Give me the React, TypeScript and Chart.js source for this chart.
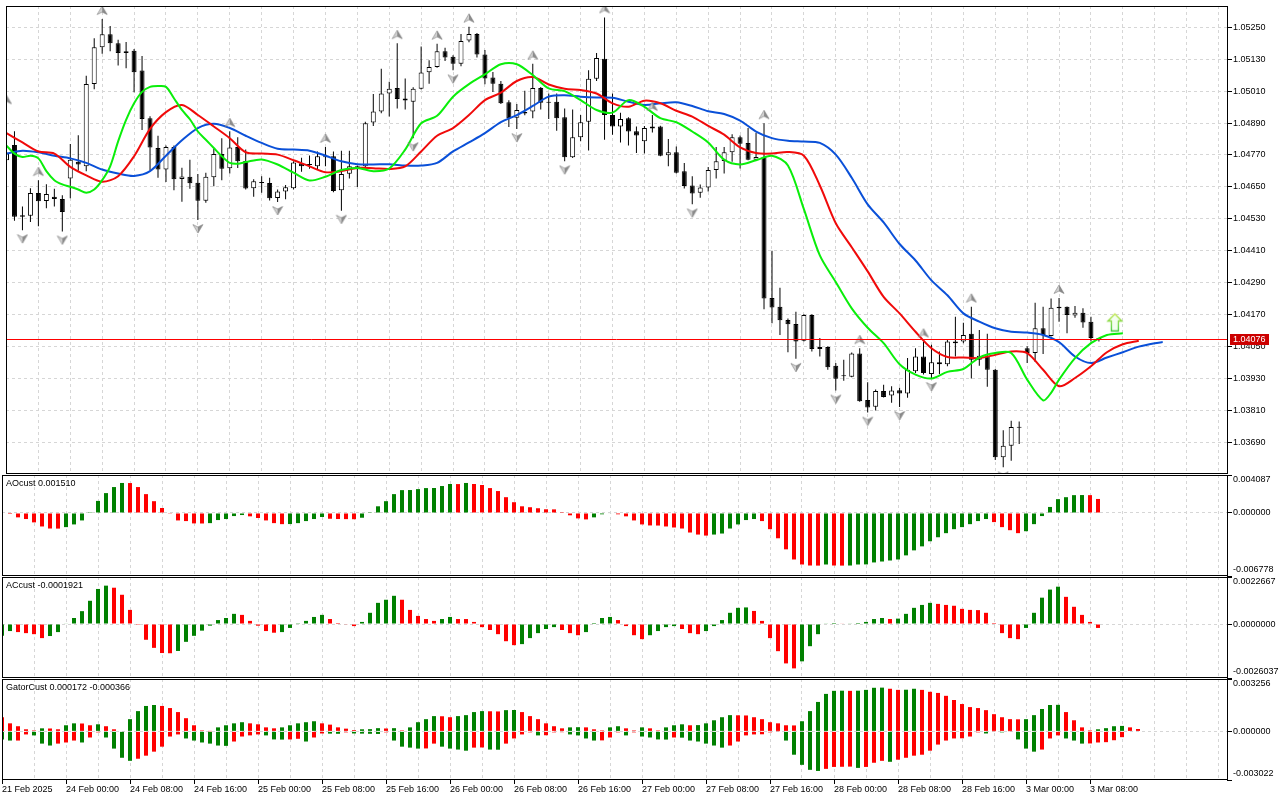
import React, { useEffect, useRef } from "react";
import { Chart, registerables } from "chart.js";

Chart.register(...registerables);

const FONT = "'Liberation Sans', Arial, Helvetica, sans-serif";
const UP_GREEN = "#008000";
const DOWN_RED = "#ff0000";

// ---------- time axis ----------
const timeLabels = [
  "21 Feb 2025", "24 Feb 00:00", "24 Feb 08:00", "24 Feb 16:00", "25 Feb 00:00", "25 Feb 08:00",
  "25 Feb 16:00", "26 Feb 00:00", "26 Feb 08:00", "26 Feb 16:00", "27 Feb 00:00", "27 Feb 08:00",
  "27 Feb 16:00", "28 Feb 00:00", "28 Feb 08:00", "28 Feb 16:00", "3 Mar 00:00", "3 Mar 08:00",
];
const timeLabelBars = [0, 8, 16, 24, 32, 40, 48, 56, 64, 72, 80, 88, 96, 104, 112, 120, 128, 136];

// ---------- price axis ----------
const priceTicks = [1.0369, 1.0381, 1.0393, 1.0405, 1.0417, 1.0429, 1.0441, 1.0453, 1.0465, 1.0477, 1.0489, 1.0501, 1.0513, 1.0525];
const priceMin = 1.0357;
const priceMax = 1.0533;
const lastPrice = 1.04076;

// ---------- candles (H1) ----------
const openP = [
  1.0475, 1.04807, 1.04543, 1.04541, 1.04627, 1.04597, 1.04613, 1.04604, 1.04681, 1.04744,
  1.04727, 1.05037, 1.05175, 1.05224, 1.0519, 1.05153, 1.05162, 1.05087, 1.04908, 1.04796,
  1.04715, 1.048, 1.04679, 1.04688, 1.04665, 1.04598, 1.04686, 1.04773, 1.0472, 1.048,
  1.04747, 1.04645, 1.04668, 1.04664, 1.04608, 1.04632, 1.04645, 1.04739, 1.04732, 1.04727,
  1.04761, 1.04765, 1.04637, 1.04699, 1.04727, 1.04727, 1.04892, 1.04933, 1.05001, 1.05022,
  1.04982, 1.0497, 1.05019, 1.05081, 1.05101, 1.0516, 1.05139, 1.05113, 1.052, 1.05225,
  1.05148, 1.05061, 1.05038, 1.04968, 1.0491, 1.04931, 1.04933, 1.05022, 1.0497, 1.0497,
  1.04912, 1.04761, 1.04836, 1.04895, 1.05056, 1.05132, 1.0492, 1.04877, 1.04908, 1.04859,
  1.04821, 1.04869, 1.04877, 1.04769, 1.0478, 1.04709, 1.04655, 1.04628, 1.04647, 1.04713,
  1.04747, 1.0478, 1.04836, 1.04815, 1.04752, 1.04762, 1.04232, 1.04199, 1.04149, 1.04134,
  1.04071, 1.04168, 1.0404, 1.04048, 1.03977, 1.03938, 1.03936, 1.04023, 1.03848, 1.03823,
  1.03882, 1.03865, 1.03885, 1.03873, 1.03956, 1.04012, 1.03946, 1.0399, 1.03983, 1.04068,
  1.04068, 1.04097, 1.04, 1.04012, 1.03962, 1.03633, 1.03676, 1.03747, 1.04043, 1.04025,
  1.04118, 1.04089, 1.04199, 1.04199, 1.04166, 1.04176, 1.04143, 1.04081,
];
const highP = [
  1.04945, 1.04859, 1.04576, 1.04645, 1.04675, 1.0466, 1.04643, 1.04618, 1.04811, 1.04844,
  1.05068, 1.05209, 1.05281, 1.05255, 1.05203, 1.05195, 1.05168, 1.05142, 1.04915, 1.04842,
  1.04805, 1.04805, 1.04722, 1.04752, 1.04698, 1.04703, 1.04793, 1.04833, 1.04859, 1.04836,
  1.0479, 1.04678, 1.0469, 1.04684, 1.0464, 1.04657, 1.04746, 1.04759, 1.04768, 1.04783,
  1.048, 1.04783, 1.04786, 1.04786, 1.0473, 1.04895, 1.04999, 1.05094, 1.05045, 1.0519,
  1.05057, 1.05024, 1.05178, 1.05126, 1.05188, 1.05173, 1.05145, 1.05225, 1.05252, 1.05228,
  1.05165, 1.05082, 1.05048, 1.04976, 1.04961, 1.05011, 1.05113, 1.05025, 1.05001, 1.05001,
  1.04945, 1.04941, 1.0492, 1.05088, 1.05153, 1.05287, 1.05001, 1.04929, 1.04912, 1.04877,
  1.04879, 1.0492, 1.0488, 1.0483, 1.04802, 1.0474, 1.0469, 1.04659, 1.04725, 1.048,
  1.048, 1.04848, 1.04843, 1.04871, 1.04852, 1.04889, 1.0441, 1.0427, 1.04155, 1.0418,
  1.04171, 1.04171, 1.04081, 1.0405, 1.03987, 1.04, 1.04027, 1.04043, 1.03915, 1.03888,
  1.03906, 1.039, 1.03894, 1.04006, 1.04043, 1.04068, 1.04056, 1.04031, 1.04074, 1.04161,
  1.04139, 1.04199, 1.04112, 1.04097, 1.03965, 1.03735, 1.0377, 1.03767, 1.0405, 1.04214,
  1.04199, 1.0423, 1.04232, 1.042, 1.04202, 1.04193, 1.04161, 1.04081,
];
const lowP = [
  1.0474, 1.04522, 1.04487, 1.04518, 1.04502, 1.04569, 1.04576, 1.04482, 1.04607, 1.0471,
  1.04709, 1.05017, 1.0515, 1.0516, 1.05106, 1.05096, 1.05006, 1.04864, 1.04711, 1.04684,
  1.04668, 1.04637, 1.04594, 1.04643, 1.04525, 1.0459, 1.04652, 1.04675, 1.047, 1.04721,
  1.0464, 1.04613, 1.04628, 1.04599, 1.04593, 1.04603, 1.0464, 1.04707, 1.04718, 1.04717,
  1.04727, 1.0463, 1.0456, 1.04681, 1.04649, 1.04721, 1.04879, 1.04927, 1.04914, 1.04945,
  1.04941, 1.04833, 1.05016, 1.05038, 1.05098, 1.05123, 1.05088, 1.05103, 1.05194, 1.05136,
  1.05036, 1.05007, 1.04961, 1.04875, 1.04867, 1.04919, 1.04908, 1.04941, 1.04905, 1.04861,
  1.04746, 1.04758, 1.04821, 1.04787, 1.05048, 1.04827, 1.04846, 1.04817, 1.04805, 1.04777,
  1.04775, 1.04854, 1.04765, 1.04727, 1.047, 1.04644, 1.04584, 1.04609, 1.04632, 1.04681,
  1.047, 1.04744, 1.04719, 1.0475, 1.0475, 1.0419, 1.04137, 1.04093, 1.04028, 1.04003,
  1.04068, 1.04031, 1.04012, 1.03962, 1.03884, 1.03921, 1.03934, 1.03842, 1.03801, 1.03809,
  1.03858, 1.03838, 1.03822, 1.03857, 1.0395, 1.03944, 1.03931, 1.03946, 1.03975, 1.04012,
  1.04062, 1.03929, 1.03977, 1.03898, 1.03623, 1.03595, 1.0362, 1.03683, 1.03987, 1.03991,
  1.04021, 1.04087, 1.04143, 1.04099, 1.04158, 1.0412, 1.04068, 1.04068,
];
const closeP = [
  1.04775, 1.04537, 1.04537, 1.04627, 1.04596, 1.04623, 1.04604, 1.04555, 1.04752, 1.04734,
  1.05037, 1.05175, 1.05224, 1.0519, 1.05153, 1.0516, 1.05081, 1.04905, 1.04798, 1.04715,
  1.048, 1.04678, 1.04689, 1.04663, 1.04598, 1.04688, 1.04773, 1.04718, 1.04798, 1.04746,
  1.04644, 1.04671, 1.04664, 1.04607, 1.04632, 1.04648, 1.04741, 1.04727, 1.04735, 1.04765,
  1.04765, 1.04634, 1.04698, 1.04727, 1.0472, 1.04889, 1.04933, 1.05001, 1.05019, 1.0498,
  1.04975, 1.05019, 1.0508, 1.05101, 1.0516, 1.05136, 1.05113, 1.05198, 1.05225, 1.05148,
  1.05057, 1.05038, 1.04964, 1.04908, 1.04939, 1.04926, 1.05022, 1.04966, 1.04966, 1.04908,
  1.04761, 1.04836, 1.04893, 1.05056, 1.05134, 1.0492, 1.04877, 1.04905, 1.04858, 1.04843,
  1.04871, 1.04877, 1.04767, 1.0478, 1.04703, 1.04653, 1.04625, 1.04647, 1.04713, 1.04746,
  1.0478, 1.04836, 1.04812, 1.04752, 1.04762, 1.0423, 1.04196, 1.04148, 1.04133, 1.04068,
  1.04168, 1.0404, 1.04048, 1.03971, 1.03928, 1.03939, 1.04023, 1.03844, 1.0382, 1.03882,
  1.0386, 1.03884, 1.03873, 1.03962, 1.04012, 1.0395, 1.0399, 1.03983, 1.04068, 1.04062,
  1.04093, 1.04, 1.04015, 1.03962, 1.03633, 1.03676, 1.03747, 1.03744, 1.04025, 1.04118,
  1.04093, 1.04195, 1.04193, 1.04168, 1.04176, 1.0414, 1.04081, 1.04076,
];

// ---------- fractals & signal ----------
const upFractals = [0, 4, 12, 28, 40, 49, 54, 58, 66, 75, 81, 95, 107, 115, 121, 132];
const downFractals = [2, 7, 24, 34, 42, 51, 56, 64, 70, 86, 99, 104, 108, 112, 116, 125];
const signalUp: [number, number][] = [[139, 1.04106]];

// ---------- alligator (bar, price) ----------
const jawLine: [number, number][] = [
  [0, 1.04775], [2, 1.04786], [4, 1.0478], [6, 1.04767], [8, 1.04757], [10, 1.0474], [12, 1.04715], [14, 1.047],
  [16, 1.04691], [18, 1.04709], [20, 1.04767], [22, 1.04825], [24, 1.04871], [26, 1.04887], [28, 1.04871], [30, 1.04842],
  [32, 1.04815], [34, 1.04793], [36, 1.0479], [38, 1.04786], [40, 1.04767], [42, 1.04746], [44, 1.04735], [46, 1.04734],
  [48, 1.04735], [50, 1.0473], [52, 1.0473], [54, 1.0474], [56, 1.04783], [58, 1.04817], [60, 1.04852], [62, 1.04893],
  [64, 1.0492], [66, 1.04954], [68, 1.04989], [70, 1.04994], [72, 1.04989], [74, 1.04986], [76, 1.04985], [78, 1.0497],
  [80, 1.04958], [82, 1.04964], [84, 1.04968], [86, 1.04954], [88, 1.04934], [90, 1.04924], [92, 1.04899], [94, 1.04858],
  [96, 1.04833], [98, 1.04823], [100, 1.0482], [102, 1.04815], [104, 1.04771], [106, 1.04684], [108, 1.04584], [110, 1.04516],
  [112, 1.04435], [114, 1.04373], [116, 1.04298], [118, 1.04242], [120, 1.04174], [122, 1.04143], [124, 1.04118], [126, 1.04105],
  [128, 1.04102], [130, 1.04093], [132, 1.04066], [134, 1.04012], [136, 1.03987], [138, 1.04008], [140, 1.04028], [142, 1.04049],
  [144, 1.04062], [145, 1.04066],
];
const teethLine: [number, number][] = [
  [0, 1.04852], [2, 1.04817], [4, 1.04783], [6, 1.04775], [8, 1.04725], [10, 1.04693], [12, 1.04669], [14, 1.0469],
  [16, 1.04765], [18, 1.04868], [20, 1.04931], [22, 1.04958], [24, 1.0492], [26, 1.04877], [28, 1.04833], [30, 1.0478],
  [32, 1.04775], [34, 1.04771], [36, 1.0475], [38, 1.04727], [40, 1.04705], [42, 1.04709], [44, 1.04721], [46, 1.0472],
  [48, 1.04717], [50, 1.04727], [52, 1.04783], [54, 1.04842], [56, 1.04871], [58, 1.0492], [60, 1.04976], [62, 1.05004],
  [64, 1.05048], [66, 1.05063], [68, 1.05035], [70, 1.05019], [72, 1.05014], [74, 1.05001], [76, 1.04964], [78, 1.04951],
  [80, 1.04974], [82, 1.04964], [84, 1.04936], [86, 1.04914], [88, 1.04879], [90, 1.04846], [92, 1.04798], [94, 1.04777],
  [96, 1.04775], [98, 1.04781], [100, 1.04767], [102, 1.04655], [104, 1.04513], [106, 1.04423], [108, 1.04332], [110, 1.04236],
  [112, 1.04174], [114, 1.04105], [116, 1.04043], [118, 1.0401], [120, 1.04008], [122, 1.04006], [124, 1.04018], [126, 1.04031],
  [128, 1.04025], [130, 1.03962], [132, 1.039], [134, 1.03931], [136, 1.03975], [138, 1.04028], [140, 1.04058], [142, 1.04071],
];
const lipsLine: [number, number][] = [
  [0, 1.04805], [1, 1.04775], [2, 1.04762], [3, 1.04767], [4, 1.04757], [5, 1.04709], [6, 1.04675], [7, 1.04659],
  [8, 1.0465], [9, 1.0464], [10, 1.04628], [11, 1.0464], [12, 1.04675], [13, 1.04727], [14, 1.04821], [15, 1.04902],
  [16, 1.04964], [17, 1.05007], [18, 1.05026], [19, 1.05029], [20, 1.05026], [21, 1.04983], [22, 1.04939], [23, 1.04904],
  [24, 1.04858], [25, 1.04827], [26, 1.04796], [27, 1.04765], [28, 1.0474], [29, 1.04737], [30, 1.04743], [32, 1.04753],
  [34, 1.04734], [36, 1.04703], [38, 1.04674], [40, 1.04688], [42, 1.04713], [44, 1.04721], [46, 1.04709], [48, 1.04719],
  [50, 1.0479], [52, 1.04889], [54, 1.04917], [56, 1.04989], [58, 1.05036], [60, 1.05073], [62, 1.05111], [64, 1.05111],
  [66, 1.0507], [68, 1.0502], [70, 1.0501], [72, 1.04976], [74, 1.04939], [76, 1.04929], [78, 1.04976], [80, 1.04951],
  [82, 1.04908], [84, 1.04893], [86, 1.04858], [88, 1.04817], [90, 1.04752], [92, 1.04734], [94, 1.0475], [96, 1.04767],
  [98, 1.0473], [100, 1.04566], [102, 1.04392], [104, 1.04292], [106, 1.04193], [108, 1.0412], [110, 1.04062], [112, 1.03983],
  [114, 1.03944], [116, 1.03929], [118, 1.03954], [120, 1.03965], [122, 1.04008], [124, 1.04025], [126, 1.04025], [128, 1.03925],
  [130, 1.03847], [131, 1.03875], [132, 1.03925], [134, 1.04006], [136, 1.04062], [138, 1.04093], [140, 1.04099],
];

// ---------- AO ----------
const aoRange = { min: -0.006778, max: 0.004087 };
const aoValues = [
  -0.00005, -0.00011, -0.00047, -0.00065, -0.00101, -0.00145, -0.00167, -0.00168, -0.00152, -0.00123,
  -0.0008, 0.00002, 0.0013, 0.00214, 0.00279, 0.00323, 0.00322, 0.00279, 0.00203, 0.00127,
  0.00054, -0.00008, -0.0008, -0.00087, -0.00112, -0.00113, -0.00109, -0.00076, -0.00065, -0.00033,
  -0.00022, -0.00036, -0.00054, -0.0008, -0.00109, -0.0012, -0.00119, -0.00109, -0.00087, -0.00065,
  -0.00043, -0.00062, -0.00065, -0.00066, -0.00067, -0.00051, 0.00002, 0.00072, 0.00127, 0.00203,
  0.00246, 0.00247, 0.00257, 0.00268, 0.00269, 0.0029, 0.00312, 0.00311, 0.00323, 0.00312,
  0.00301, 0.00268, 0.00236, 0.0017, 0.00116, 0.00072, 0.00062, 0.00051, 0.0004, 0.00039,
  0.00001, -0.00025, -0.00058, -0.00069, -0.00047, -0.00014, -0.00005, -0.00014, -0.00036, -0.0008,
  -0.00123, -0.00134, -0.00135, -0.00145, -0.00156, -0.00167, -0.0021, -0.00232, -0.00243, -0.00232,
  -0.00221, -0.00167, -0.00123, -0.00076, -0.00065, -0.00087, -0.00174, -0.00272, -0.00391, -0.005,
  -0.00554, -0.00565, -0.00566, -0.00554, -0.00565, -0.00566, -0.00565, -0.00554, -0.00553, -0.00532,
  -0.00522, -0.00511, -0.005, -0.00456, -0.00402, -0.00359, -0.00304, -0.00261, -0.00217, -0.00174,
  -0.00152, -0.0012, -0.00087, -0.00065, -0.00098, -0.00152, -0.00185, -0.00217, -0.00196, -0.0012,
  -0.00033, 0.00065, 0.00149, 0.0017, 0.00192, 0.00193, 0.00192, 0.00151,
];
const aoColorRuns: [string, number][] = [
  ["R", 8], ["G", 8], ["R", 10], ["G", 5], ["R", 5], ["G", 5], ["R", 4], ["G", 12], ["R", 1], ["G", 1],
  ["R", 15], ["G", 3], ["R", 12], ["G", 6], ["R", 8], ["G", 1], ["R", 2], ["G", 18], ["R", 4], ["G", 8], ["R", 2],
];

// ---------- AC ----------
const acRange = { min: -0.0026037, max: 0.0022667 };
const acValues = [
  -0.00057, -0.00034, -0.00039, -0.00044, -0.00049, -0.00068, -0.00058, -0.00039, 0.00002, 0.00029,
  0.00062, 0.00112, 0.00169, 0.00185, 0.00175, 0.00141, 0.00068, -0.00004, -0.00076, -0.00115,
  -0.0014, -0.00141, -0.0013, -0.00086, -0.00057, -0.00032, -0.00008, 0.00019, 0.00029, 0.00049,
  0.00044, 0.00015, -0.00008, -0.00034, -0.00042, -0.00039, -0.00019, 0.00001, 0.00015, 0.00034,
  0.00044, 0.00024, 0.00005, -0.00003, -0.0001, 0.0001, 0.00054, 0.00102, 0.00117, 0.00136,
  0.00117, 0.00068, 0.00039, 0.00024, 0.00015, 0.00024, 0.00034, 0.00024, 0.00024, 0.0001,
  -0.00015, -0.00029, -0.00049, -0.00083, -0.00102, -0.00097, -0.00068, -0.00044, -0.00024, -0.00015,
  -0.00029, -0.00044, -0.00054, -0.00039, 0.00005, 0.00029, 0.00034, 0.00019, -0.0001, -0.00054,
  -0.00073, -0.00054, -0.00034, -0.00015, -0.0001, -0.00024, -0.00044, -0.00049, -0.00034, -0.0001,
  0.00019, 0.00054, 0.00078, 0.0008, 0.00063, 0.00015, -0.00068, -0.00131, -0.0019, -0.00214,
  -0.0018, -0.00107, -0.00049, 0.00003, 0.00005, 0.00002, 0.00003, 0.00005, 0.0001, 0.00024,
  0.00029, 0.00024, 0.00026, 0.00049, 0.00078, 0.00092, 0.00102, 0.00097, 0.00092, 0.00088,
  0.00073, 0.00068, 0.00067, 0.00054, 0.00005, -0.00044, -0.00068, -0.00073, -0.00019, 0.00054,
  0.00127, 0.00166, 0.0018, 0.00131, 0.00083, 0.00044, 0.0001, -0.00019,
];
const acColorRuns: [string, number][] = [
  ["G", 2], ["R", 4], ["G", 8], ["R", 8], ["G", 8], ["R", 5], ["G", 6], ["R", 4], ["G", 5], ["R", 5],
  ["G", 2], ["R", 8], ["G", 5], ["R", 3], ["G", 4], ["R", 4], ["G", 4], ["R", 3], ["G", 6], ["R", 6],
  ["G", 5], ["R", 1], ["G", 5], ["R", 1], ["G", 5], ["R", 11], ["G", 5], ["R", 5],
];

// ---------- Gator ----------
const gatorRange = { min: -0.003022, max: 0.003256 };
const gatorUp = [
  0.00088, 0.0005, 0.00032, 0.00013, 0.00006, 0.00019, 0.00018, 0.00013, 0.00038, 0.0005,
  0.00049, 0.00038, 0.00044, 0.00032, 0.00013, 0.00003, 0.00076, 0.00126, 0.00158, 0.00164,
  0.00158, 0.00145, 0.0012, 0.00082, 0.00038, 0.00006, 0.00001, 0.00025, 0.00038, 0.0005,
  0.00057, 0.0005, 0.00044, 0.00025, 0.00019, 0.00025, 0.00038, 0.0005, 0.00057, 0.00063,
  0.0005, 0.00042, 0.00025, 0.00017, 0.00008, 0.00013, 0.00014, 0.0002, 0.00018, 0.0002,
  0.00006, 0.00025, 0.00057, 0.00076, 0.00095, 0.00094, 0.00088, 0.00095, 0.00101, 0.0012,
  0.00126, 0.00125, 0.00124, 0.00132, 0.00133, 0.0012, 0.00095, 0.00076, 0.0005, 0.00032,
  0.00019, 0.00025, 0.00026, 0.00025, 0.00013, 0.00006, 0.00025, 0.00032, 0.00019, 0.00006,
  0.00025, 0.00019, 0.00006, 0.00025, 0.00038, 0.00044, 0.00038, 0.00039, 0.0005, 0.00069,
  0.00088, 0.00101, 0.001, 0.00099, 0.00088, 0.00076, 0.00057, 0.0005, 0.00038, 0.00037,
  0.00063, 0.00126, 0.00183, 0.00233, 0.00252, 0.00253, 0.00252, 0.00253, 0.00258, 0.00271,
  0.00272, 0.00265, 0.00258, 0.00259, 0.00265, 0.00258, 0.00246, 0.00239, 0.00221, 0.00195,
  0.0017, 0.00151, 0.00145, 0.00132, 0.00107, 0.00088, 0.00076, 0.00075, 0.00076, 0.00101,
  0.00139, 0.00164, 0.00165, 0.0012, 0.00069, 0.00025, 0.00006, 0.00013, 0.0002, 0.00032,
  0.00034, 0.00025, 0.00015,
];
const gatorUpColorRuns: [string, number][] = [
  ["R", 5], ["G", 1], ["R", 2], ["G", 2], ["R", 2], ["G", 1], ["R", 3], ["G", 4], ["R", 7], ["G", 4],
  ["R", 4], ["G", 5], ["R", 5], ["G", 3], ["R", 1], ["G", 1], ["R", 1], ["G", 4], ["R", 2], ["G", 4],
  ["R", 2], ["G", 2], ["R", 6], ["G", 2], ["R", 3], ["G", 2], ["R", 2], ["G", 1], ["R", 2], ["G", 3],
  ["R", 1], ["G", 5], ["R", 8], ["G", 6], ["R", 1], ["G", 4], ["R", 2], ["G", 2], ["R", 13], ["G", 5],
  ["R", 4], ["G", 4], ["R", 2],
];
const gatorDown = [
  -0.0005, -0.00057, -0.00057, -0.00019, -0.00025, -0.00076, -0.00088, -0.00076, -0.00069, -0.00057,
  -0.00069, -0.00038, -0.00006, -0.00038, -0.00107, -0.00164, -0.00183, -0.0017, -0.00151, -0.00126,
  -0.00095, -0.00032, -0.00019, -0.00044, -0.00057, -0.00069, -0.00076, -0.00088, -0.0009, -0.00063,
  -0.00032, -0.00025, -0.00019, -0.00025, -0.0005, -0.00051, -0.0005, -0.00046, -0.00063, -0.00038,
  -0.00013, -0.00014, -0.00015, -0.00006, -0.00013, -0.00014, -0.00015, -0.00016, -0.00006, -0.00057,
  -0.00095, -0.00101, -0.00107, -0.00106, -0.00076, -0.00095, -0.00107, -0.00113, -0.0012, -0.00101,
  -0.001, -0.00113, -0.00114, -0.00076, -0.00044, -0.00019, -0.00006, -0.00025, -0.00024, -0.00006,
  -0.00005, -0.00019, -0.00025, -0.00044, -0.00057, -0.00056, -0.00038, -0.00006, -0.00025, -0.00006,
  -0.00032, -0.00038, -0.0005, -0.00051, -0.00038, -0.00039, -0.00057, -0.00063, -0.00076, -0.00088,
  -0.00101, -0.00088, -0.00063, -0.00025, -0.00019, -0.00018, -0.00006, -0.00002, -0.00057, -0.00145,
  -0.00208, -0.00239, -0.00246, -0.00233, -0.00221, -0.0022, -0.00219, -0.00227, -0.00221, -0.00195,
  -0.00183, -0.00189, -0.00176, -0.00164, -0.00151, -0.00145, -0.0012, -0.00082, -0.00057, -0.00044,
  -0.00043, -0.00032, -0.00006, -0.00013, -0.00002, -0.00006, -0.00002, -0.0005, -0.00107, -0.00126,
  -0.00113, -0.00044, -0.00025, -0.00044, -0.00057, -0.00076, -0.00075, -0.00069, -0.00067, -0.00055,
  -0.00036,
];
const gatorDownColorRuns: [string, number][] = [
  ["G", 2], ["R", 2], ["G", 3], ["R", 3], ["G", 1], ["R", 2], ["G", 4], ["R", 6], ["G", 6], ["R", 4],
  ["G", 3], ["R", 2], ["G", 1], ["R", 2], ["G", 2], ["R", 1], ["G", 4], ["R", 1], ["G", 4], ["R", 2],
  ["G", 4], ["R", 2], ["G", 2], ["R", 4], ["G", 1], ["R", 3], ["G", 4], ["R", 3], ["G", 1], ["R", 1],
  ["G", 4], ["R", 1], ["G", 6], ["R", 7], ["G", 5], ["R", 4], ["G", 1], ["R", 3], ["G", 1], ["R", 11],
  ["G", 1], ["R", 1], ["G", 1], ["R", 1], ["G", 3], ["R", 3], ["G", 3], ["R", 5],
];

// ---------- helpers ----------
function expandRuns(runs: [string, number][]): string[] {
  const out: string[] = [];
  runs.forEach(([c, n]) => {
    for (let k = 0; k < n; k++) out.push(c);
  });
  return out;
}
const colorOf = (c: string | undefined) => (c === "G" ? UP_GREEN : DOWN_RED);

function fractalIcon(up: boolean): HTMLCanvasElement {
  const c = document.createElement("canvas");
  c.width = 12;
  c.height = 34;
  const g = c.getContext("2d") as CanvasRenderingContext2D;
  const cx = 6;
  const tipY = up ? 4 : 30;
  const baseY = up ? 12.5 : 21.5;
  const notchY = up ? 10 : 24;
  g.beginPath();
  g.moveTo(cx, tipY);
  g.lineTo(cx, notchY);
  g.lineTo(1, baseY);
  g.closePath();
  g.fillStyle = "#d2d2d2";
  g.fill();
  g.beginPath();
  g.moveTo(cx, tipY);
  g.lineTo(11, baseY);
  g.lineTo(cx, notchY);
  g.closePath();
  g.fillStyle = "#8c8c8c";
  g.fill();
  g.beginPath();
  g.moveTo(cx, tipY);
  g.lineTo(11, baseY);
  g.lineTo(cx, notchY);
  g.lineTo(1, baseY);
  g.closePath();
  g.strokeStyle = "rgba(105,105,105,0.85)";
  g.lineWidth = 0.6;
  g.stroke();
  return c;
}

function signalIcon(): HTMLCanvasElement {
  const c = document.createElement("canvas");
  c.width = 18;
  c.height = 44;
  const g = c.getContext("2d") as CanvasRenderingContext2D;
  g.beginPath();
  g.moveTo(9, 4.5);
  g.lineTo(16, 11.5);
  g.lineTo(12.5, 11.5);
  g.lineTo(12.5, 21.5);
  g.lineTo(5.5, 21.5);
  g.lineTo(5.5, 11.5);
  g.lineTo(2, 11.5);
  g.closePath();
  g.fillStyle = "#f4fff0";
  g.fill();
  const grad = g.createLinearGradient(0, 4, 0, 22);
  grad.addColorStop(0, "#c8e850");
  grad.addColorStop(1, "#38c838");
  g.strokeStyle = grad;
  g.lineWidth = 1.3;
  g.stroke();
  return c;
}

type Decor = {
  gridY: number[];
  mainLabels?: number[];
  subLabels?: { min: number; max: number; decimals: number };
  title?: string;
  priceLine?: number;
};

function decorPlugin(d: Decor) {
  return {
    id: "mtDecor",
    beforeDatasetsDraw(chart: any) {
      const { ctx, chartArea: a, scales } = chart;
      const xs = scales.x;
      const ys = scales.y;
      ctx.save();
      ctx.strokeStyle = "#d6d6d6";
      ctx.lineWidth = 1;
      ctx.setLineDash([3, 3]);
      for (let b = 4; b < 160; b += 4) {
        const px = Math.floor(xs.getPixelForValue(b)) + 0.5;
        if (px >= a.right - 1) break;
        ctx.beginPath();
        ctx.moveTo(px, a.top);
        ctx.lineTo(px, a.bottom);
        ctx.stroke();
      }
      d.gridY.forEach((v) => {
        const py = Math.floor(ys.getPixelForValue(v)) + 0.5;
        ctx.beginPath();
        ctx.moveTo(a.left, py);
        ctx.lineTo(a.right, py);
        ctx.stroke();
      });
      ctx.restore();
    },
    afterDatasetsDraw(chart: any) {
      if (d.priceLine === undefined) return;
      const { ctx, chartArea: a, scales } = chart;
      const py = Math.floor(scales.y.getPixelForValue(d.priceLine)) + 0.5;
      ctx.save();
      ctx.setLineDash([]);
      ctx.globalAlpha = 1;
      ctx.strokeStyle = "rgb(255,0,0)";
      ctx.lineWidth = 1;
      ctx.beginPath();
      ctx.moveTo(a.left, py);
      ctx.lineTo(a.right, py);
      ctx.stroke();
      ctx.restore();
    },
    afterDraw(chart: any) {
      const { ctx, chartArea: a, scales } = chart;
      const ys = scales.y;
      ctx.save();
      ctx.setLineDash([]);
      ctx.strokeStyle = "#000";
      ctx.lineWidth = 1;
      ctx.strokeRect(a.left + 0.5, a.top + 0.5, a.right - a.left, a.bottom - a.top - 1);
      ctx.fillStyle = "#000";
      ctx.font = `9px ${FONT}`;
      ctx.textAlign = "left";
      ctx.textBaseline = "middle";
      const lx = a.right + 6;
      if (d.mainLabels) {
        d.mainLabels.forEach((v) => {
          ctx.fillText(v.toFixed(5), lx, Math.floor(ys.getPixelForValue(v)) + 0.5);
        });
      }
      if (d.subLabels) {
        const s = d.subLabels;
        ctx.fillText(s.max.toFixed(s.decimals), lx, a.top + 5);
        ctx.fillText((0).toFixed(s.decimals), lx, Math.floor(ys.getPixelForValue(0)) + 0.5);
        ctx.fillText(s.min.toFixed(s.decimals), lx, a.bottom - 6);
      }
      if (d.title) {
        ctx.fillText(d.title, a.left + 4, a.top + 9);
      }
      if (d.priceLine !== undefined) {
        const py = Math.floor(ys.getPixelForValue(d.priceLine)) + 0.5;
        ctx.fillStyle = "#cc0000";
        ctx.fillRect(a.right + 3, py - 5.5, 39, 11);
        ctx.fillStyle = "#ffffff";
        ctx.fillText(d.priceLine.toFixed(5), lx, py);
      }
      ctx.restore();
    },
  };
}

type PaneCfg = {
  top: number;
  bottom: number;
  yMin: number;
  yMax: number;
  xMin: number;
  xMax: number;
  yTicks: number[];
  showTime: boolean;
  datasets: any[];
  decor: Decor;
};

function makeChart(canvas: HTMLCanvasElement, p: PaneCfg) {
  return new Chart(canvas, {
    type: "line",
    data: { datasets: p.datasets },
    options: {
      responsive: false,
      animation: false,
      events: [],
      layout: { padding: { left: 2, right: 0, top: p.top, bottom: p.bottom } },
      plugins: { legend: { display: false }, tooltip: { enabled: false } },
      scales: {
        x: {
          type: "linear",
          min: p.xMin,
          max: p.xMax,
          offset: false,
          display: p.showTime,
          border: { display: false },
          grid: { offset: false, drawOnChartArea: false, drawTicks: true, tickLength: 4, tickColor: "#000", color: "#000" },
          ticks: {
            autoSkip: false,
            maxRotation: 0,
            minRotation: 0,
            align: "start",
            padding: 0,
            color: "#000",
            font: { family: FONT, size: 9 },
            callback: (_v: any, idx: number) => timeLabels[idx] ?? "",
          },
          afterBuildTicks: (s: any) => {
            s.ticks = timeLabelBars.map((b) => ({ value: b }));
          },
          afterFit: (s: any) => {
            s.height = p.showTime ? 20 : 0;
          },
        },
        y: {
          type: "linear",
          position: "right",
          min: p.yMin,
          max: p.yMax,
          border: { display: false },
          grid: { drawOnChartArea: false, drawTicks: true, tickLength: 5, tickColor: "#000", color: "#000" },
          ticks: { display: false },
          afterBuildTicks: (s: any) => {
            s.ticks = p.yTicks.map((v) => ({ value: v }));
          },
          afterFit: (s: any) => {
            s.width = 53;
          },
        },
      },
    } as any,
    plugins: [decorPlugin(p.decor) as any],
  });
}

function histDataset(values: number[], colors: string[]) {
  return {
    type: "bar",
    data: values.map((v, i) => ({ x: i, y: v })),
    backgroundColor: values.map((_v, i) => colorOf(colors[i])),
    borderWidth: 0,
    barThickness: 4,
    grouped: false,
    inflateAmount: 0,
  };
}

function lineDataset(pts: [number, number][], color: string, order: number) {
  return {
    type: "line",
    data: pts.map(([x, y]) => ({ x, y })),
    borderColor: color,
    borderWidth: 2,
    pointRadius: 0,
    tension: 0.3,
    fill: false,
    borderJoinStyle: "round",
    order,
  };
}

export default function App() {
  const mainRef = useRef<HTMLCanvasElement>(null);
  const aoRef = useRef<HTMLCanvasElement>(null);
  const acRef = useRef<HTMLCanvasElement>(null);
  const gatorRef = useRef<HTMLCanvasElement>(null);

  useEffect(() => {
    document.body.style.margin = "0";
    const upIcon = fractalIcon(true);
    const downIcon = fractalIcon(false);
    const sigIcon = signalIcon();

    const candleIdx = openP.map((_v, i) => i);

    const mainDatasets = [
      {
        type: "bar",
        data: candleIdx.map((i) => ({ x: i, y: [lowP[i], highP[i]] })),
        backgroundColor: "#000",
        borderWidth: 0,
        barThickness: 1,
        grouped: false,
        inflateAmount: 0,
        order: 6,
      },
      {
        type: "bar",
        data: candleIdx.map((i) => ({ x: i, y: [openP[i], closeP[i]] })),
        backgroundColor: candleIdx.map((i) => (closeP[i] >= openP[i] ? "#ffffff" : "#000000")),
        borderColor: "#000",
        borderWidth: 1,
        borderSkipped: false,
        barThickness: 5,
        minBarLength: 1,
        grouped: false,
        inflateAmount: 0,
        order: 5,
      },
      lineDataset(jawLine, "#0a50d8", 3),
      lineDataset(teethLine, "#f00a0a", 2),
      lineDataset(lipsLine, "#0aee0a", 1),
      {
        type: "line",
        data: upFractals.map((i) => ({ x: i, y: highP[i] })),
        showLine: false,
        pointStyle: upIcon,
        pointRadius: 5,
        order: 0,
      },
      {
        type: "line",
        data: downFractals.map((i) => ({ x: i, y: lowP[i] })),
        showLine: false,
        pointStyle: downIcon,
        pointRadius: 5,
        order: 0,
      },
      {
        type: "line",
        data: signalUp.map(([x, y]) => ({ x, y })),
        showLine: false,
        pointStyle: sigIcon,
        pointRadius: 5,
        order: 0,
      },
    ];

    const subX = { xMin: 0, xMax: 153.125 };

    const charts = [
      makeChart(mainRef.current as HTMLCanvasElement, {
        top: 2,
        bottom: 326,
        yMin: priceMin,
        yMax: priceMax,
        xMin: -0.0625,
        xMax: 153.0625,
        yTicks: priceTicks,
        showTime: false,
        datasets: mainDatasets,
        decor: { gridY: priceTicks, mainLabels: priceTicks, priceLine: lastPrice },
      }),
      makeChart(aoRef.current as HTMLCanvasElement, {
        top: 475,
        bottom: 224,
        yMin: aoRange.min,
        yMax: aoRange.max,
        ...subX,
        yTicks: [aoRange.min, 0, aoRange.max],
        showTime: false,
        datasets: [histDataset(aoValues, expandRuns(aoColorRuns))],
        decor: { gridY: [0], subLabels: { min: aoRange.min, max: aoRange.max, decimals: 6 }, title: "AOcust 0.001510" },
      }),
      makeChart(acRef.current as HTMLCanvasElement, {
        top: 577,
        bottom: 122,
        yMin: acRange.min,
        yMax: acRange.max,
        ...subX,
        yTicks: [acRange.min, 0, acRange.max],
        showTime: false,
        datasets: [histDataset(acValues, expandRuns(acColorRuns))],
        decor: { gridY: [0], subLabels: { min: acRange.min, max: acRange.max, decimals: 7 }, title: "ACcust -0.0001921" },
      }),
      makeChart(gatorRef.current as HTMLCanvasElement, {
        top: 679,
        bottom: 0,
        yMin: gatorRange.min,
        yMax: gatorRange.max,
        ...subX,
        yTicks: [gatorRange.min, 0, gatorRange.max],
        showTime: true,
        datasets: [
          histDataset(gatorUp, expandRuns(gatorUpColorRuns)),
          histDataset(gatorDown, expandRuns(gatorDownColorRuns)),
        ],
        decor: {
          gridY: [0],
          subLabels: { min: gatorRange.min, max: gatorRange.max, decimals: 6 },
          title: "GatorCust 0.000172 -0.000366",
        },
      }),
    ];
    return () => charts.forEach((c) => c.destroy());
  }, []);

  const cs: React.CSSProperties = { position: "absolute", left: 0, top: 0 };
  return (
    <div style={{ position: "relative", width: 1280, height: 800, background: "#ffffff", overflow: "hidden" }}>
      <canvas ref={mainRef} width={1280} height={800} style={cs} />
      <canvas ref={aoRef} width={1280} height={800} style={cs} />
      <canvas ref={acRef} width={1280} height={800} style={cs} />
      <canvas ref={gatorRef} width={1280} height={800} style={cs} />
    </div>
  );
}
